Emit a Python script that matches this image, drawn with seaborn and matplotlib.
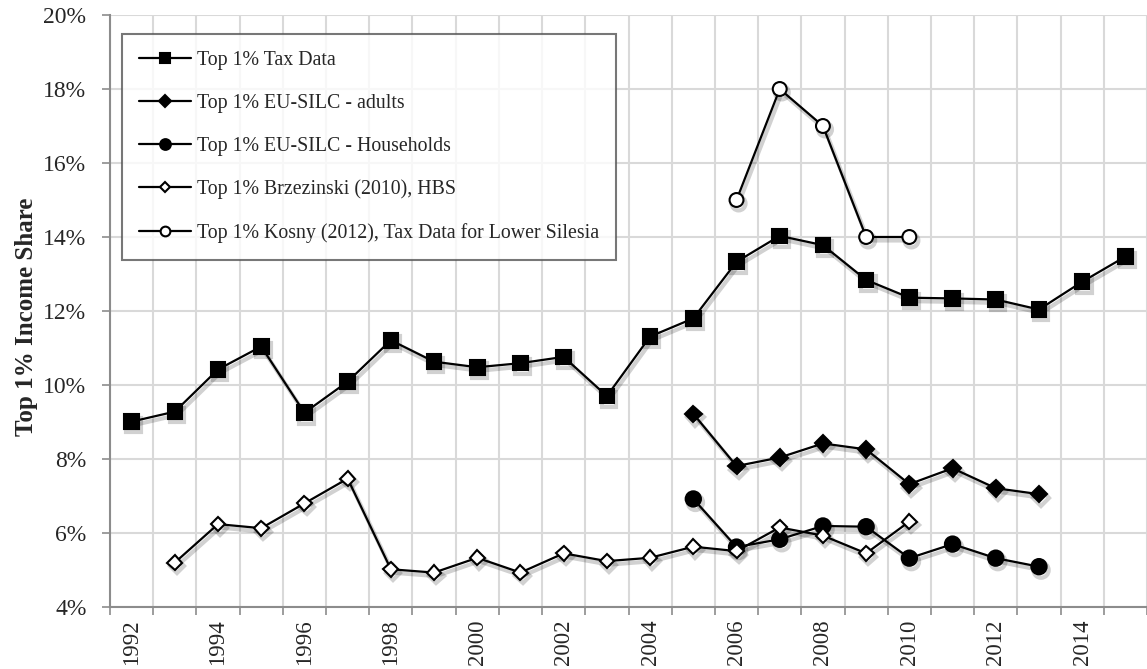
import numpy as np
import pandas as pd
import matplotlib
matplotlib.use("Agg")
import matplotlib.pyplot as plt
import matplotlib.patheffects as pe
import seaborn as sns

# data (income share in %)
tax_years = list(range(1992, 2016))
tax_share = [9.01, 9.28, 10.42, 11.04, 9.25, 10.09, 11.21, 10.63, 10.48, 10.59,
             10.76, 9.70, 11.31, 11.80, 13.33, 14.03, 13.78, 12.84, 12.36, 12.34,
             12.31, 12.04, 12.79, 13.47]

silc_years = list(range(2005, 2014))
silc_adults = [9.22, 7.81, 8.04, 8.42, 8.26, 7.32, 7.75, 7.21, 7.05]
silc_households = [6.92, 5.62, 5.83, 6.19, 6.17, 5.32, 5.70, 5.32, 5.09]

brz_years = list(range(1993, 2011))
brz_share = [5.20, 6.24, 6.13, 6.80, 7.47, 5.02, 4.93, 5.33, 4.93, 5.45,
             5.24, 5.33, 5.63, 5.51, 6.15, 5.93, 5.45, 6.31]

kosny_years = [2006, 2007, 2008, 2009, 2010]
kosny_share = [15.0, 18.0, 17.0, 14.0, 14.0]

labels = ["Top 1% Tax Data",
          "Top 1% EU-SILC - adults",
          "Top 1% EU-SILC - Households",
          "Top 1% Brzezinski (2010), HBS",
          "Top 1% Kosny (2012), Tax Data for Lower Silesia"]

sns.set_style("white")
plt.rcParams["font.family"] = ["Liberation Serif", "DejaVu Serif"]

fig = plt.figure(figsize=(11.47, 6.69), dpi=100)
ax = fig.add_axes([110 / 1147, 62 / 669, 1037 / 1147, 592 / 669])

series = [
    (tax_years, tax_share, "s", 10.5, "black"),
    (silc_years, silc_adults, "D", 8.5, "black"),
    (silc_years, silc_households, "o", 11, "black"),
    (brz_years, brz_share, "D", 7.5, "white"),
    (kosny_years, kosny_share, "o", 10, "white"),
]
shadow = [pe.SimpleLineShadow(offset=(1.5, -2.5), shadow_color="black", alpha=0.18,
                              linewidth=3),
          pe.Normal()]
for (yrs, vals, mk, ms, fc), lab in zip(series, labels):
    df = pd.DataFrame({"year": yrs, "share": vals})
    sns.lineplot(data=df, x="year", y="share", ax=ax, color="black", lw=1.6,
                 marker=mk, markersize=ms, markerfacecolor=fc,
                 markeredgecolor="black", markeredgewidth=1.5, label=lab,
                 path_effects=shadow, zorder=3)

ax.set_xlim(1991.5, 1991.5 + 1037 / 43.6)
ax.set_ylim(4, 20)

# category boundaries carry ticks and gridlines, labels sit on even years
ax.set_xticks(np.arange(1991.5, 2016, 1.0))
ax.set_xticklabels([])
ax.set_xticks(np.arange(1992, 2016, 2), minor=True)
ax.set_xticklabels([str(y) for y in range(1992, 2016, 2)], minor=True,
                   rotation=90, fontsize=16.5)
ax.tick_params(axis="x", which="major", direction="out", length=6, width=1.2,
               color="#8c8c8c", bottom=True)
ax.tick_params(axis="x", which="minor", length=0, pad=9, bottom=True)

ax.set_yticks(np.arange(4, 21, 2))
ax.set_yticklabels([f"{v}%" for v in range(4, 21, 2)], fontsize=17)
ax.tick_params(axis="y", direction="out", length=6, width=1.2, color="#8c8c8c",
               pad=11, left=True)

ax.grid(True, which="major", color="#d9d9d9", lw=1.5)
ax.set_axisbelow(True)
for s in ["top", "right"]:
    ax.spines[s].set_visible(False)
for s in ["left", "bottom"]:
    ax.spines[s].set_color("#8c8c8c")
    ax.spines[s].set_linewidth(1.5)

ax.set_xlabel("")
ax.set_ylabel("Top 1% Income Share", fontsize=18, fontweight="bold")
ax.yaxis.set_label_coords(-0.069, 0.49)

leg = ax.legend(loc="upper left", bbox_to_anchor=(122 / 1147, 1 - 34 / 669),
                bbox_transform=fig.transFigure, fontsize=14.3, frameon=True,
                fancybox=False, edgecolor="#555555", labelspacing=1.2,
                handlelength=2.6, handletextpad=0.35, borderpad=0.85,
                borderaxespad=0, markerscale=0.7)
leg.get_frame().set_linewidth(1.5)
for h in leg.legend_handles:
    h.set_path_effects([])

fig.savefig("out.png", dpi=100)
